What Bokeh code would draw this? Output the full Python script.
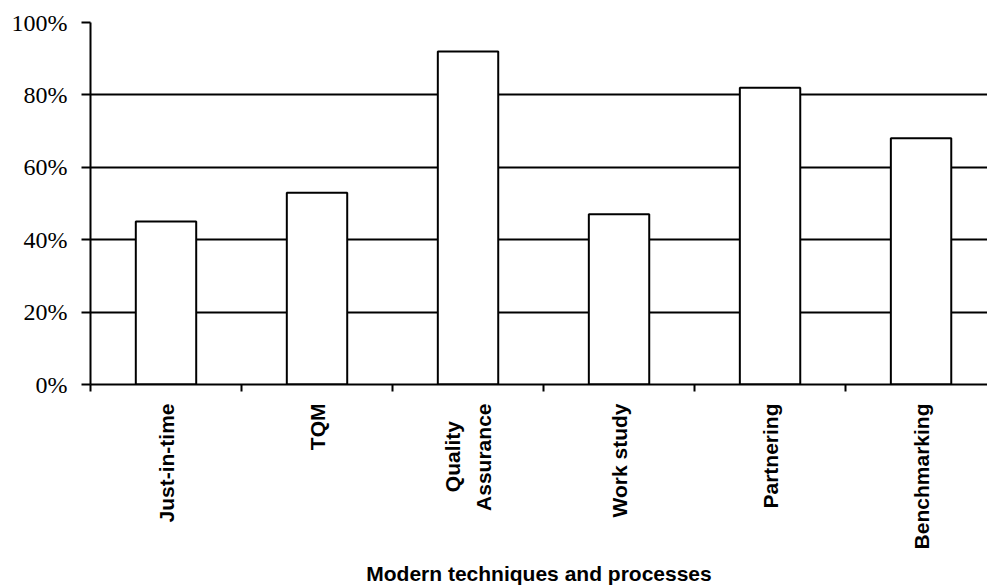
import math
from bokeh.plotting import figure
from bokeh.models import Range1d, FixedTicker, ColumnDataSource
from bokeh.embed import file_html
from bokeh.resources import INLINE

categories = ["Just-in-time", "TQM", "Quality\u00a0\u00a0\u00a0\nAssurance", "Work study", "Partnering", "Benchmarking"]
values = [45, 53, 92, 47, 82, 68]
y_ticks = [0, 20, 40, 60, 80, 100]
y_tick_labels = ["0%", "20%", "40%", "60%", "80%", "100%"]
x_title = "Modern techniques and processes"

xs = [i + 0.5 for i in range(len(categories))]
bounds = list(range(len(categories) + 1))

src = ColumnDataSource(dict(x=xs, top=values))

p = figure(width=987, height=588,
           x_range=Range1d(0, 5.94), y_range=Range1d(0, 100),
           output_backend="svg", toolbar_location=None,
           min_border_left=90, min_border_right=0,
           min_border_top=22, min_border_bottom=203)
p.outline_line_color = None
p.background_fill_color = "white"
p.border_fill_color = "white"

p.vbar(x="x", top="top", width=0.4, bottom=0, source=src,
       fill_color="white", line_color="black", line_width=2)

# x axis
xa = p.xaxis[0]
xa.ticker = FixedTicker(ticks=xs, minor_ticks=bounds)
xa.major_label_overrides = {x: c for x, c in zip(xs, categories)}
xa.major_tick_out = 0
xa.major_tick_in = 0
xa.minor_tick_out = 7
xa.minor_tick_in = 0
xa.minor_tick_line_color = "black"
xa.minor_tick_line_width = 2
xa.axis_line_color = "black"
xa.axis_line_width = 2
xa.major_label_orientation = math.pi / 2
xa.major_label_standoff = 12
xa.major_label_text_font = "Liberation Sans"
xa.major_label_text_font_style = "bold"
xa.major_label_text_font_size = "21px"
xa.major_label_text_line_height = 1.38
xa.major_label_text_color = "black"
xa.axis_label = x_title
xa.axis_label_text_font = "Liberation Sans"
xa.axis_label_text_font_style = "bold"
xa.axis_label_text_font_size = "21px"
xa.axis_label_text_color = "black"
xa.axis_label_standoff = 10

# y axis
ya = p.yaxis[0]
ya.ticker = FixedTicker(ticks=y_ticks, minor_ticks=[])
ya.major_label_overrides = {t: l for t, l in zip(y_ticks, y_tick_labels)}
ya.major_tick_out = 9
ya.major_tick_in = 0
ya.major_tick_line_width = 2
ya.major_tick_line_color = "black"
ya.minor_tick_line_color = None
ya.axis_line_color = "black"
ya.axis_line_width = 2
ya.major_label_standoff = 14
ya.major_label_text_font = "Liberation Serif"
ya.major_label_text_font_size = "24px"
ya.major_label_text_color = "black"

p.xgrid.visible = False
p.ygrid.ticker = FixedTicker(ticks=y_ticks, minor_ticks=[])
p.ygrid.grid_line_color = "black"
p.ygrid.grid_line_width = 2

open("out.html", "w").write(file_html(p, INLINE))
